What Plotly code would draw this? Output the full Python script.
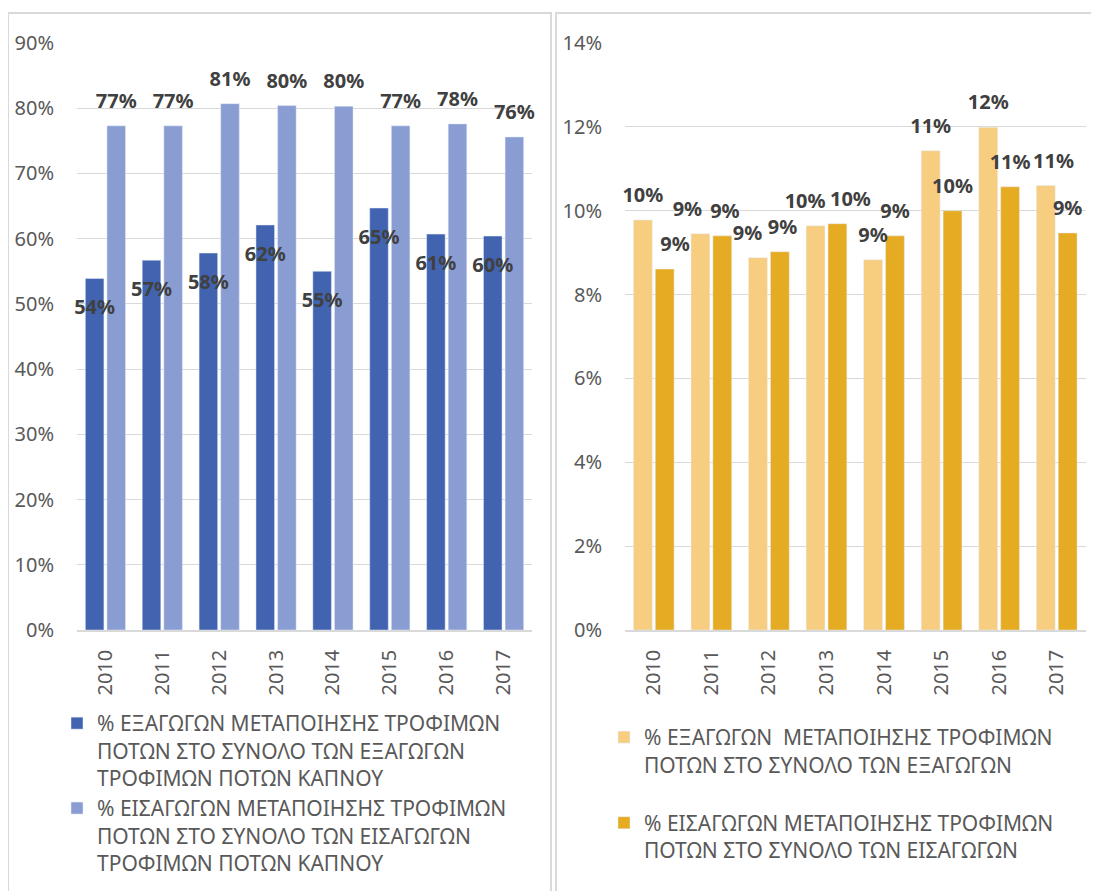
import plotly.graph_objects as go

years = ["2010", "2011", "2012", "2013", "2014", "2015", "2016", "2017"]

# Left chart (% values)
left_exports = [53.9, 56.7, 57.8, 62.1, 55.0, 64.7, 60.7, 60.4]
left_imports = [77.3, 77.3, 80.7, 80.4, 80.3, 77.3, 77.6, 75.6]
# Right chart (% values)
right_exports = [9.78, 9.45, 8.88, 9.64, 8.83, 11.43, 11.99, 10.6]
right_imports = [8.61, 9.40, 9.02, 9.69, 9.40, 10.0, 10.57, 9.47]

name_l1 = "% ΕΞΑΓΩΓΩΝ ΜΕΤΑΠΟΙΗΣΗΣ ΤΡΟΦΙΜΩΝ<br>ΠΟΤΩΝ ΣΤΟ ΣΥΝΟΛΟ ΤΩΝ ΕΞΑΓΩΓΩΝ<br>ΤΡΟΦΙΜΩΝ ΠΟΤΩΝ ΚΑΠΝΟΥ"
name_l2 = "% ΕΙΣΑΓΩΓΩΝ ΜΕΤΑΠΟΙΗΣΗΣ ΤΡΟΦΙΜΩΝ<br>ΠΟΤΩΝ ΣΤΟ ΣΥΝΟΛΟ ΤΩΝ ΕΙΣΑΓΩΓΩΝ<br>ΤΡΟΦΙΜΩΝ ΠΟΤΩΝ ΚΑΠΝΟΥ"
name_r1 = "% ΕΞΑΓΩΓΩΝ\u00a0 ΜΕΤΑΠΟΙΗΣΗΣ ΤΡΟΦΙΜΩΝ<br>ΠΟΤΩΝ ΣΤΟ ΣΥΝΟΛΟ ΤΩΝ ΕΞΑΓΩΓΩΝ"
name_r2 = "% ΕΙΣΑΓΩΓΩΝ ΜΕΤΑΠΟΙΗΣΗΣ ΤΡΟΦΙΜΩΝ<br>ΠΟΤΩΝ ΣΤΟ ΣΥΝΟΛΟ ΤΩΝ ΕΙΣΑΓΩΓΩΝ"

FONT = "Noto Sans"
W, H = 1099, 891
BODY = 8  # browser default body margin
px = lambda x: (x - BODY) / W
py = lambda y: 1 - (y - BODY) / H
PLOT_H = 587  # pixel height of the value axes

LEFT_MAX, RIGHT_MAX = 90, 14

NB = "\u00a0"
def labels(vals, pad_left=None, pad_right=None):
    out = []
    for i, v in enumerate(vals):
        t = f"{round(v)}%"
        if pad_left and pad_left[i]:
            t = NB * pad_left[i] + t
        if pad_right and pad_right[i]:
            t = t + NB * pad_right[i]
        out.append(t)
    return out

lab_font = dict(family=FONT, size=20, color="#404040")
CLEAR = "rgba(0,0,0,0)"
lab_style = dict(textfont=lab_font, insidetextfont=lab_font, outsidetextfont=lab_font,
                 texttemplate="<b>%{text}</b>", textangle=0, constraintext="none",
                 cliponaxis=False, hoverinfo="skip", showlegend=False,
                 marker=dict(color=CLEAR, line=dict(width=0)))

fig = go.Figure()
# visible bars
fig.add_trace(go.Bar(x=years, y=left_exports, name=name_l1, marker_color="#4264b0",
                     xaxis="x", yaxis="y", legend="legend", hoverinfo="skip"))
fig.add_trace(go.Bar(x=years, y=left_imports, name=name_l2, marker_color="#8a9dd2",
                     xaxis="x", yaxis="y", legend="legend", hoverinfo="skip"))
fig.add_trace(go.Bar(x=years, y=right_exports, name=name_r1, marker_color="#f7cd80",
                     xaxis="x2", yaxis="y2", legend="legend2", legendgroup="c", hoverinfo="skip"))
fig.add_trace(go.Bar(x=years, y=right_imports, name=name_r2, marker_color="#e5ab22",
                     xaxis="x2", yaxis="y2", legend="legend2", legendgroup="d", hoverinfo="skip"))

# data-label layers (transparent bars on overlaying axes, drawn above all bars)
fig.add_trace(go.Bar(x=years, y=left_exports, xaxis="x3", yaxis="y3", text=labels(left_exports),
                     textposition="inside", insidetextanchor="end", **lab_style))
fig.add_trace(go.Bar(x=years, y=left_imports, xaxis="x3", yaxis="y3", textposition="none", **lab_style))
fig.add_trace(go.Bar(x=years, y=left_exports, xaxis="x3", yaxis="y4", textposition="none", **lab_style))
fig.add_trace(go.Bar(x=years, y=left_imports, xaxis="x3", yaxis="y4", text=labels(left_imports),
                     textposition="outside", **lab_style))
fig.add_trace(go.Bar(x=years, y=right_exports, xaxis="x4", yaxis="y5",
                     text=labels(right_exports, pad_right=[0, 5, 4, 4, 0, 0, 0, 0],
                                 pad_left=[0, 0, 0, 0, 0, 0, 0, 3]),
                     textposition="outside", **lab_style))
fig.add_trace(go.Bar(x=years, y=right_imports, xaxis="x4", yaxis="y5",
                     text=labels(right_imports, pad_left=[4, 1, 1, 5, 0, 0, 0, 0]),
                     textposition="outside", **lab_style))

tickfont = dict(family=FONT, size=20, color="#595959")
xcommon = dict(type="category", tickangle=-90, tickfont=tickfont, showline=True,
               linecolor="#d9d9d9", linewidth=1.5, ticks="outside", ticklen=10,
               tickcolor=CLEAR, showgrid=False, automargin=False)
ycommon = dict(tickfont=tickfont, gridcolor="#d9d9d9", gridwidth=1.3, zeroline=False,
               showline=False, ticks="outside", ticklen=18, tickcolor=CLEAR,
               ticksuffix="%", tick0=0, automargin=False)
hidden = dict(visible=False, showgrid=False, zeroline=False, automargin=False)

down_l = 12 / PLOT_H * LEFT_MAX   # shift of inside labels (downwards)
up_l = 9 / PLOT_H * LEFT_MAX      # shift of outside labels (upwards)
up_r = 9 / PLOT_H * RIGHT_MAX

dom_y = [py(630), py(43)]
fig.update_layout(
    width=W, height=H, margin=dict(l=0, r=0, t=0, b=0, autoexpand=False),
    paper_bgcolor="white", plot_bgcolor="white",
    font=dict(family=FONT, color="#595959"),
    barmode="group", bargap=0.24, bargroupgap=0.14,
    xaxis=dict(domain=[px(77), px(532)], anchor="y", **xcommon),
    yaxis=dict(domain=dom_y, anchor="x", range=[0, LEFT_MAX], dtick=10, **ycommon),
    xaxis2=dict(domain=[px(625), px(1085.5)], anchor="y2", **xcommon),
    yaxis2=dict(domain=dom_y, anchor="x2", range=[0, RIGHT_MAX], dtick=2, **ycommon),
    xaxis3=dict(overlaying="x", type="category", **hidden),
    yaxis3=dict(overlaying="y", range=[down_l, LEFT_MAX + down_l], **hidden),
    yaxis4=dict(overlaying="y", range=[-up_l, LEFT_MAX - up_l], **hidden),
    xaxis4=dict(overlaying="x2", type="category", **hidden),
    yaxis5=dict(overlaying="y2", range=[-up_r, RIGHT_MAX - up_r], **hidden),
    legend=dict(x=px(57), y=py(703), xanchor="left", yanchor="top",
                font=dict(family=FONT, size=21, color="#595959"),
                bgcolor=CLEAR, valign="top", tracegroupgap=0),
    legend2=dict(x=px(604), y=py(717), xanchor="left", yanchor="top",
                 font=dict(family=FONT, size=21, color="#595959"),
                 bgcolor=CLEAR, valign="top", tracegroupgap=28),
    shapes=[
        dict(type="rect", xref="paper", yref="paper", x0=px(8), x1=px(551), y0=-0.02, y1=py(13),
             line=dict(color="#d9d9d9", width=2), fillcolor=CLEAR, layer="below"),
        dict(type="rect", xref="paper", yref="paper", x0=px(556), x1=1.02, y0=-0.02, y1=py(13),
             line=dict(color="#d9d9d9", width=2), fillcolor=CLEAR, layer="below"),
    ],
    showlegend=True,
)

fig.write_html("out.html")
